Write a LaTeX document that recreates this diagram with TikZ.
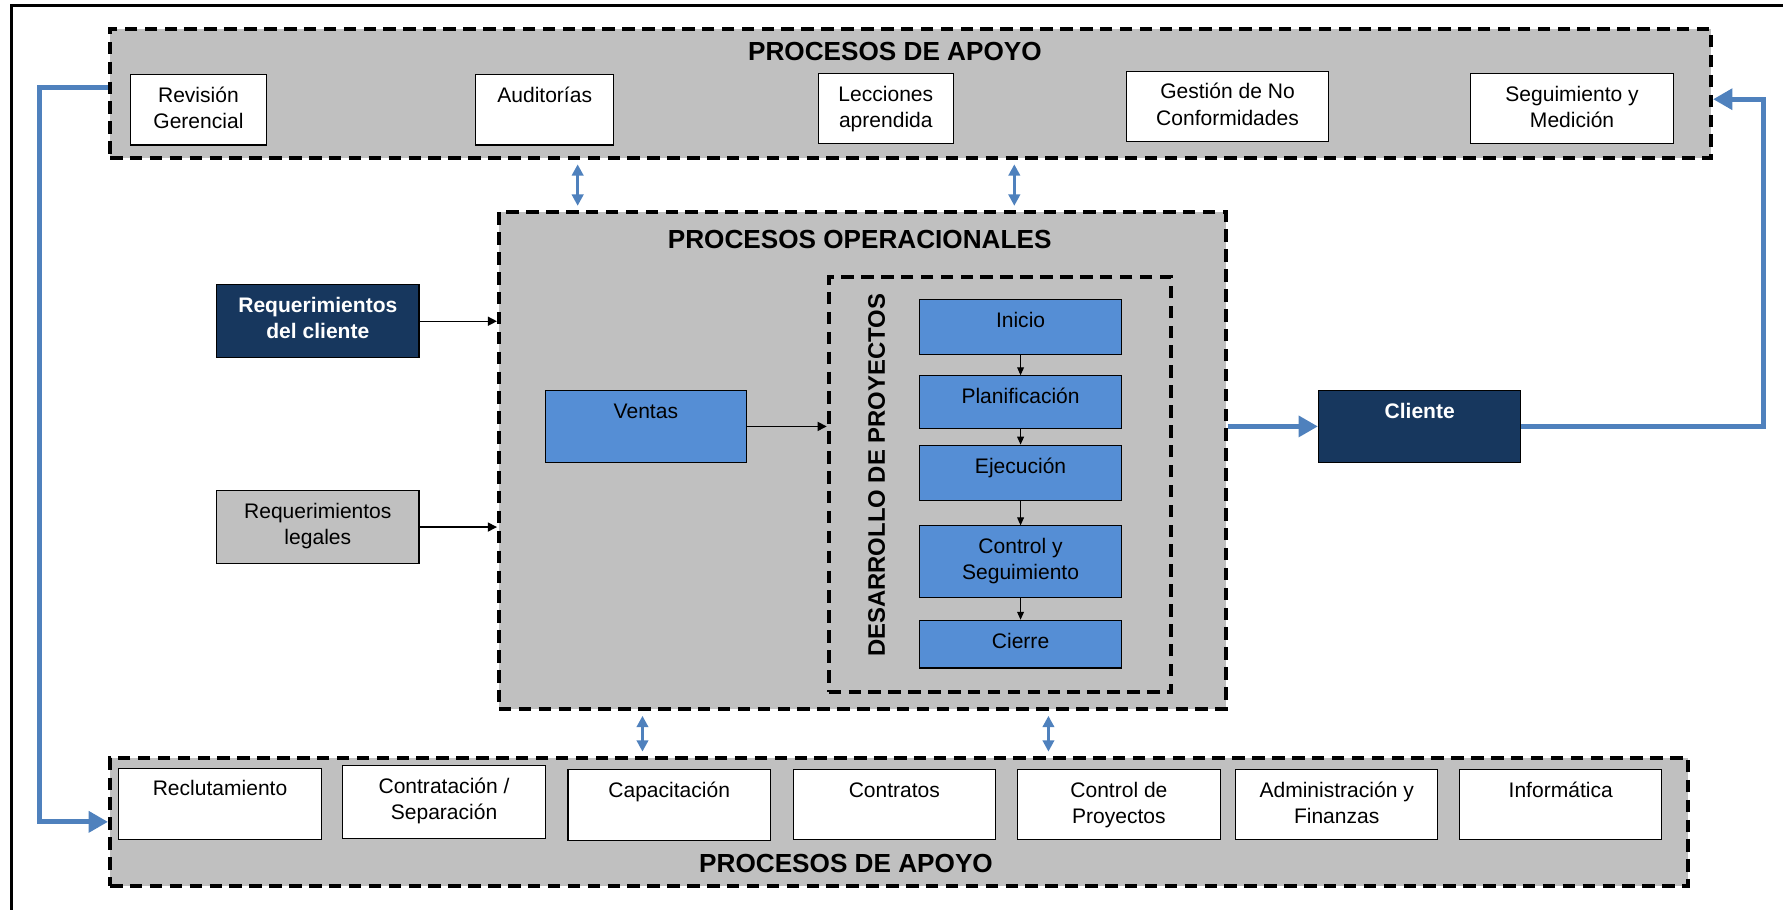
\documentclass[tikz,border=0pt]{standalone}
\usepackage{fontspec}
\setmainfont{Liberation Sans}
\usetikzlibrary{arrows.meta}

\definecolor{boxgray}{HTML}{C0C0C0}
\definecolor{navy}{HTML}{17375E}
\definecolor{stepblue}{HTML}{558ED5}
\definecolor{linkblue}{HTML}{4F81BD}

% label set at the top of a box of given width and height
\newcommand{\boxtext}[3]{\parbox[c][#2][t]{#1}{\centering\rule{0pt}{24.5pt}#3\par}}

\tikzset{
  procbox/.style={draw=black, line width=1pt, inner sep=0pt, anchor=north west,
                  font=\fontsize{18.5}{23}\selectfont},
  whitebox/.style={procbox, fill=white},
  bluebox/.style={procbox, fill=stepblue},
  graybox/.style={procbox, fill=boxgray},
  navybox/.style={procbox, fill=navy, text=white,
                  font=\bfseries\fontsize{18.5}{23}\selectfont},
  groupbox/.style={draw=black, fill=boxgray, line width=3.5pt,
                   dash pattern=on 11pt off 6.5pt, inner sep=0pt, anchor=north west},
  stagebox/.style={draw=black, line width=3.5pt,
                   dash pattern=on 11pt off 6.5pt, inner sep=0pt, anchor=north west},
  grouptitle/.style={font=\bfseries\fontsize{23}{26}\selectfont, inner sep=0pt},
  blink/.style={draw=linkblue, line width=4.5pt,
                -{Triangle[length=17pt,width=18pt]}},
  dlink/.style={draw=linkblue, line width=3pt,
                {Triangle[length=10pt,width=10pt]}-{Triangle[length=10pt,width=10pt]},
                shorten >=4pt, shorten <=4pt},
  flow/.style={draw=black, line width=1.2pt, -{Triangle[length=8pt,width=8pt]}},
  stepflow/.style={draw=black, line width=1pt, -{Triangle[length=7pt,width=6pt]}},
}

\begin{document}
\begin{tikzpicture}[x=1pt, y=-1pt]
\useasboundingbox (0,0) rectangle (1568,800);
\clip (0,0) rectangle (1568,800);

% frame: left and top rules
\draw[line width=3pt] (10,812) -- (10,5) -- (1580,5);

% ---------------- top support processes ----------------
\node[groupbox, minimum width=1408pt, minimum height=113pt] (apoyoTop) at (95,24) {};
\node[grouptitle] (tTop) at (787,45) {PROCESOS DE APOYO};
\node[whitebox] (rg)  at (114,65)  {\boxtext{120pt}{62pt}{Revisión\\Gerencial}};
\node[whitebox] (aud) at (418,65)  {\boxtext{121pt}{62pt}{Auditorías}};
\node[whitebox] (lec) at (719,64)  {\boxtext{119pt}{62pt}{Lecciones\\aprendida}};
\node[whitebox] (gnc) at (990,62)  {\boxtext{178pt}{62pt}{Gestión de No\\Conformidades}};
\node[whitebox] (sym) at (1293,64) {\boxtext{178pt}{62pt}{Seguimiento y\\Medición}};

% ---------------- operational processes ----------------
\node[groupbox, minimum width=639pt, minimum height=437pt] (oper) at (437,185) {};
\node[grouptitle] (tOper) at (756,211) {PROCESOS OPERACIONALES};

\node[navybox] (reqc) at (190,250) {\boxtext{178pt}{64pt}{Requerimientos\\del cliente}};
\node[graybox] (reql) at (190,431) {\boxtext{178pt}{64pt}{Requerimientos\\legales}};
\node[bluebox] (ventas) at (479,343) {\boxtext{177pt}{63pt}{Ventas}};

\node[stagebox, minimum width=301pt, minimum height=365pt] (des) at (727,242) {};
\node[rotate=90, font=\bfseries\fontsize{21}{24}\selectfont, inner sep=0pt] (tDes)
  at (771,418) {DESARROLLO DE PROYECTOS};

\node[bluebox] (inicio) at (808,263) {\boxtext{178pt}{48pt}{Inicio}};
\node[bluebox] (plan)   at (808,330) {\boxtext{178pt}{46pt}{Planificación}};
\node[bluebox] (ejec)   at (808,391) {\boxtext{178pt}{49pt}{Ejecución}};
\node[bluebox] (ctrl)   at (808,462) {\boxtext{178pt}{63pt}{Control y\\Seguimiento}};
\node[bluebox] (cierre) at (808,545) {\boxtext{178pt}{42pt}{Cierre}};

\node[navybox] (cliente) at (1159,343) {\boxtext{178pt}{63pt}{Cliente}};

% ---------------- bottom support processes ----------------
\node[groupbox, minimum width=1388pt, minimum height=112pt] (apoyoBot) at (95,665) {};
\node[grouptitle] (tBot) at (744,759) {PROCESOS DE APOYO};
\node[whitebox] (recl)  at (104,675)  {\boxtext{178pt}{63pt}{Reclutamiento}};
\node[whitebox] (contr) at (301,673)  {\boxtext{178pt}{64pt}{Contratación /\\Separación}};
\node[whitebox] (capa)  at (499,676)  {\boxtext{178pt}{63pt}{Capacitación}};
\node[whitebox] (ctos)  at (697,676)  {\boxtext{178pt}{62pt}{Contratos}};
\node[whitebox] (cproy) at (894,676)  {\boxtext{179pt}{62pt}{Control de\\Proyectos}};
\node[whitebox] (adm)   at (1086,676) {\boxtext{178pt}{62pt}{Administración y\\Finanzas}};
\node[whitebox] (inf)   at (1283,676) {\boxtext{178pt}{62pt}{Informática}};

% ---------------- connectors ----------------
\coordinate (ua) at (508,0);
\coordinate (ub) at (892,0);
\coordinate (la) at (565,0);
\coordinate (lb) at (922,0);
\draw[dlink] (apoyoTop.south -| ua) -- (oper.north -| ua);
\draw[dlink] (apoyoTop.south -| ub) -- (oper.north -| ub);
\draw[dlink] (oper.south -| la) -- (apoyoBot.north -| la);
\draw[dlink] (oper.south -| lb) -- (apoyoBot.north -| lb);

\draw[flow] (reqc.east) -- (reqc.east -| oper.west);
\draw[flow] (reql.east) -- (reql.east -| oper.west);
\draw[flow] (ventas.east) -- (ventas.east -| des.west);

\draw[stepflow] (inicio.south) -- (plan.north);
\draw[stepflow] (plan.south) -- (ejec.north);
\draw[stepflow] (ejec.south) -- (ctrl.north);
\draw[stepflow] (ctrl.south) -- (cierre.north);

\draw[blink] (oper.east |- cliente.west) -- (cliente.west);
\draw[blink] (cliente.east) -- ++(213,0) |- ([yshift=-5pt]apoyoTop.east);
\draw[blink] ([yshift=5pt]apoyoTop.west) -- ++(-60,0) |- (apoyoBot.west);
\end{tikzpicture}
\end{document}
